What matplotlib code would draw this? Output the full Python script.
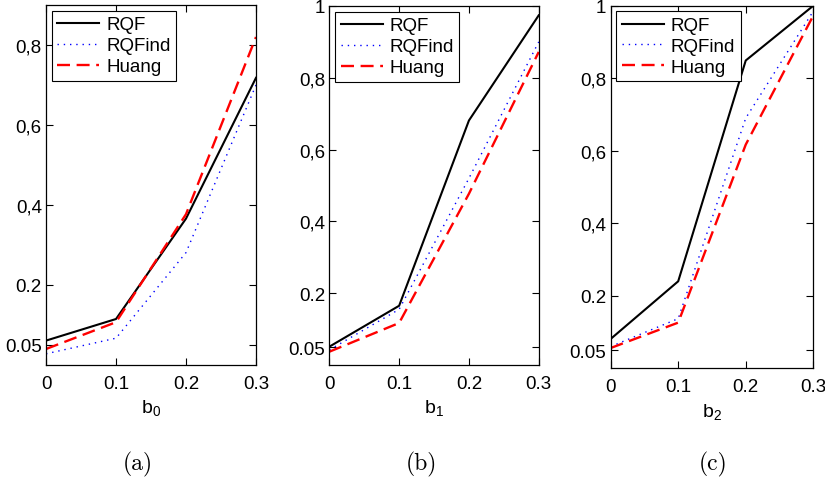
import numpy as np
import matplotlib
matplotlib.use("Agg")
import matplotlib.pyplot as plt

plt.rcParams['font.family'] = ['Liberation Sans', 'DejaVu Sans']
plt.rcParams['mathtext.fontset'] = 'custom'
plt.rcParams['mathtext.rm'] = 'Liberation Sans'
plt.rcParams['mathtext.it'] = 'Liberation Sans:italic'

# data
b_values = [0, 0.1, 0.2, 0.3]

a_rqf = [0.061, 0.115, 0.366, 0.718]
a_rqfind = [0.028, 0.067, 0.281, 0.700]
a_huang = [0.040, 0.107, 0.377, 0.820]

b_rqf = [0.051, 0.165, 0.681, 0.974]
b_rqfind = [0.042, 0.155, 0.520, 0.900]
b_huang = [0.037, 0.117, 0.477, 0.872]

c_rqf = [0.081, 0.240, 0.849, 1.000]
c_rqfind = [0.060, 0.137, 0.690, 0.985]
c_huang = [0.056, 0.126, 0.617, 0.973]

xticks = [0, 0.1, 0.2, 0.3]
xticklabels = ['0', '0.1', '0.2', '0.3']
yticks = [0.05, 0.2, 0.4, 0.6, 0.8, 1.0]
yticklabels = ['0.05', '0.2', '0,4', '0,6', '0,8', '1']

panels = [
    (a_rqf, a_rqfind, a_huang, 0.9, r'b$_\mathrm{0}$', '(a)'),
    (b_rqf, b_rqfind, b_huang, 1.0, r'b$_\mathrm{1}$', '(b)'),
    (c_rqf, c_rqfind, c_huang, 1.0, r'b$_\mathrm{2}$', '(c)'),
]
rects = [
    [0.0558, 0.2391, 0.2545, 0.7484],
    [0.3992, 0.2391, 0.2538, 0.7464],
    [0.7402, 0.2322, 0.2456, 0.7538],
]
cap_x = [138 / 825, 421 / 825, 713 / 825]

fig = plt.figure(figsize=(8.25, 4.81), dpi=100)

for i, (rqf, rqfind, huang, ytop, xlab, cap) in enumerate(panels):
    ax = fig.add_axes(rects[i])
    ax.plot(b_values, rqf, color='black', lw=1.5, label='RQF')
    ax.plot(b_values, rqfind, color='blue', lw=1.0, linestyle=(0, (1, 3.5)), label='RQFind')
    ax.plot(b_values, huang, color='red', lw=1.7, linestyle=(0, (5.5, 2.8)), label='Huang')
    ax.set_xlim(0, 0.3)
    ax.set_ylim(0, ytop)
    ticks = [t for t in yticks if t <= ytop + 1e-9]
    ax.set_yticks(ticks, yticklabels[:len(ticks)])
    ax.set_xticks(xticks, xticklabels)
    ax.tick_params(direction='in', length=5, width=0.8, top=True, right=True,
                   labelsize=13.5)
    ax.tick_params(axis='x', pad=7)
    ax.tick_params(axis='y', pad=3)
    for s in ax.spines.values():
        s.set_linewidth(0.9)
    ax.set_xlabel(xlab, fontsize=14, labelpad=4)
    leg = ax.legend(loc='upper left', fontsize=13.5, handlelength=2.25,
                    handletextpad=0.35, labelspacing=0.2, borderpad=0.3,
                    borderaxespad=0.3, fancybox=False, framealpha=1)
    leg.get_frame().set_edgecolor('black')
    leg.get_frame().set_linewidth(0.8)
    fig.text(cap_x[i], 1 - 470 / 481, cap, ha='center', va='baseline',
             fontsize=17, family='cmr10')

fig.savefig('out.png', dpi=100)
